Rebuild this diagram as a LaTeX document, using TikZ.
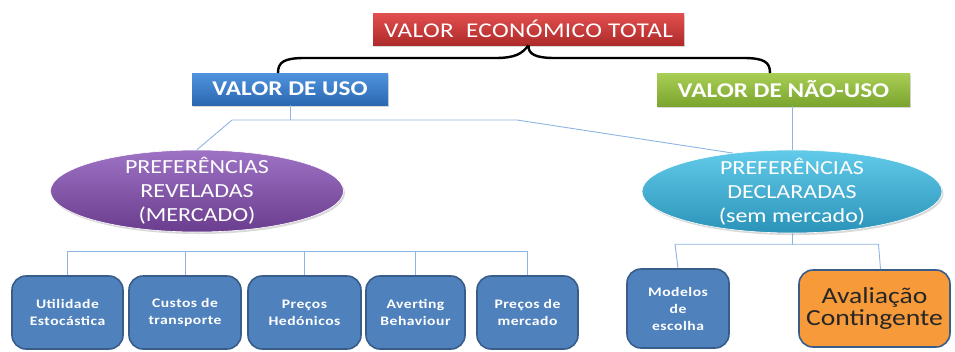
\documentclass[tikz,border=0pt]{standalone}
\usepackage{fontspec}
\setmainfont{Carlito}[FakeStretch=1.2]
\usetikzlibrary{shapes.geometric,shadows}
\definecolor{redtop}{HTML}{E2504F}
\definecolor{redbot}{HTML}{AE2A2A}
\definecolor{bluetop}{HTML}{4F93DE}
\definecolor{bluebot}{HTML}{2C68B2}
\definecolor{greentop}{HTML}{A9CE55}
\definecolor{greenbot}{HTML}{7BA52E}
\definecolor{purptop}{HTML}{9E72C4}
\definecolor{purpbot}{HTML}{6A3D8E}
\definecolor{cyantop}{HTML}{62CBEA}
\definecolor{cyanbot}{HTML}{2A93B8}
\definecolor{boxfill}{HTML}{4F81BD}
\definecolor{boxline}{HTML}{385D8A}
\definecolor{orangefill}{HTML}{F79A3A}
\definecolor{connblue}{HTML}{8EB4E3}
\tikzset{
  hdr/.style={rectangle, inner sep=0pt, text=white, font=\fontsize{21}{24}\selectfont\bfseries,
    drop shadow={opacity=0.3, shadow xshift=1.2pt, shadow yshift=-1.5pt}},
  ell/.style={ellipse, inner sep=0pt, draw=white, line width=0.6pt,
    drop shadow={opacity=0.3, shadow xshift=1.5pt, shadow yshift=-2pt}},
  elltext/.style={text=white, align=center, font=\fontsize{20}{24}\selectfont},
  leaf/.style={rectangle, rounded corners=14pt, draw=boxline, line width=1.6pt, fill=boxfill,
    text=white, align=center, inner sep=0pt,
    font=\fontsize{13}{17}\selectfont\bfseries\addfontfeature{LetterSpace=4}},
  conn/.style={draw=connblue, line width=0.9pt},
  brace/.style={draw=black, line width=2.4pt}
}
\begin{document}
\begin{tikzpicture}[x=1pt,y=-1pt]
\useasboundingbox (0,0) rectangle (955,351);
% top
\node[hdr, top color=redtop, bottom color=redbot, minimum width=311pt, minimum height=32pt,
  font=\fontsize{21}{24}\selectfont\addfontfeature{LetterSpace=2}] (top) at (528.5,29) {VALOR\ \ ECONÓMICO TOTAL};
\node[hdr, top color=bluetop, bottom color=bluebot, minimum width=196pt, minimum height=32pt] (uso) at (290,89) {VALOR DE USO};
\node[hdr, top color=greentop, bottom color=greenbot, minimum width=253pt, minimum height=33pt] (nuso) at (783.5,89.5) {VALOR DE NÃO-USO};
% brace
\draw[brace] (278,73) .. controls (278,62) and (284,58) .. (305,58) -- (495,58)
  .. controls (515,58) and (522,54) .. (top.south);
\draw[brace] (770,73) .. controls (770,62) and (764,58) .. (743,58) -- (555,58)
  .. controls (535,58) and (528,54) .. (top.south);
% ellipses
\node[ell, top color=purptop, bottom color=purpbot, minimum width=293pt, minimum height=82pt] (rev) at (197,191) {};
\node[elltext] at (rev) {PREFERÊNCIAS\\REVELADAS\\(MERCADO)};
\node[ell, top color=cyantop, bottom color=cyanbot, minimum width=300pt, minimum height=83pt] (dec) at (792,191.5) {};
\node[elltext] at (dec) {PREFERÊNCIAS\\DECLARADAS\\(sem mercado)};
% leaves
\node[leaf, minimum width=111pt, minimum height=73pt] (b1) at (67.5,312.5) {Utilidade\\Estocástica};
\node[leaf, minimum width=112pt, minimum height=73pt] (b2) at (185,312.5) {Custos de\\transporte};
\node[leaf, minimum width=113pt, minimum height=73pt] (b3) at (304.5,312.5) {Preços\\Hedónicos};
\node[leaf, minimum width=99pt, minimum height=73pt] (b4) at (415.5,312.5) {Averting\\Behaviour};
\node[leaf, minimum width=101pt, minimum height=73pt] (b5) at (527.5,312.5) {Preços de\\mercado};
\node[leaf, minimum width=102pt, minimum height=79pt] (m1) at (678,308.5) {Modelos\\de\\escolha};
\node[leaf, minimum width=151pt, minimum height=77pt, fill=orangefill, text=black!85,
  font=\fontsize{23}{22}\selectfont] (m2) at (874.5,308.5) {Avaliação\\Contingente};
% connectors
\coordinate (usoj) at ([yshift=-15pt]uso.south);
\draw[conn] (uso.south) -- (usoj);
\draw[conn] (rev.north) -- (232,120) -- (517,120) -- (dec.147);
\draw[conn] (nuso.south -| dec.north) -- (dec.north);
\draw[conn] (b1.north) -- ++(0,-24) -| (b5.north);
\draw[conn] (b2.north) -- ++(0,-24);
\draw[conn] (b3.north) -- ++(0,-24);
\draw[conn] (b4.north) -- ++(0,-24);
\draw[conn] (dec.south) -- ++(0,12) coordinate (decj);
\draw[conn] (m1.north) -- ++(-3,-24) -- ([xshift=4pt,yshift=25pt]m2.north) -- ([xshift=6pt]m2.north);
\end{tikzpicture}
\end{document}
